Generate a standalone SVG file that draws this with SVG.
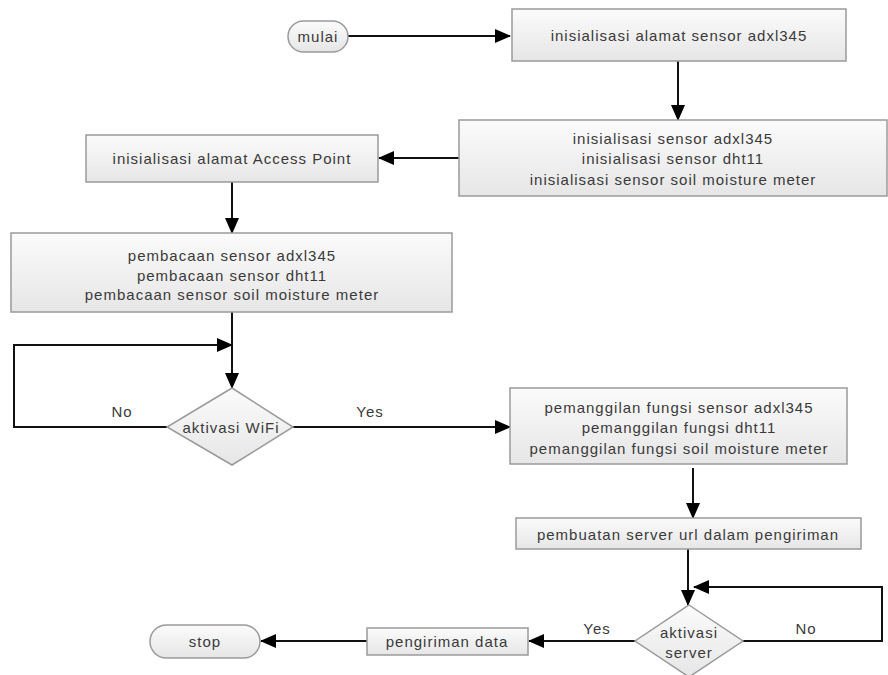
<svg xmlns="http://www.w3.org/2000/svg" width="888" height="675" viewBox="0 0 888 675">
<defs>
<linearGradient id="g" x1="0" y1="0" x2="0" y2="1">
<stop offset="0" stop-color="#fbfbfb"/>
<stop offset="1" stop-color="#e6e6e6"/>
</linearGradient>
<marker id="arr" markerUnits="userSpaceOnUse" markerWidth="16" markerHeight="14" viewBox="0 0 16 14" refX="15" refY="7" orient="auto">
<path d="M0,0 L16,7 L0,14 z" fill="#000"/>
</marker>
<style>
.box{fill:url(#g);stroke:#9a9a9a;stroke-width:1.5}
.t{font-family:"Liberation Sans",Arial,sans-serif;font-size:15px;letter-spacing:1px;fill:#3a3a3a;text-anchor:middle;dominant-baseline:central}
.c{fill:none;stroke:#111;stroke-width:2}
</style>
</defs>
<rect width="888" height="675" fill="#fff"/>
<g id="connectors">
<path class="c" d="M348,36 H510" marker-end="url(#arr)"/>
<path class="c" d="M678,61 V120" marker-end="url(#arr)"/>
<path class="c" d="M459,158 H379" marker-end="url(#arr)"/>
<path class="c" d="M232,182 V233" marker-end="url(#arr)"/>
<path class="c" d="M232,312 V388" marker-end="url(#arr)"/>
<path class="c" d="M167,427 H14 V345 H232" marker-end="url(#arr)"/>
<path class="c" d="M293,427 H510" marker-end="url(#arr)"/>
<path class="c" d="M693,468 V518" marker-end="url(#arr)"/>
<path class="c" d="M688,549 V605" marker-end="url(#arr)"/>
<path class="c" d="M743,641 H882 V587 H694" marker-end="url(#arr)"/>
<path class="c" d="M635,641 H529" marker-end="url(#arr)"/>
<path class="c" d="M367,641 H261" marker-end="url(#arr)"/>
<text class="t" x="122" y="411">No</text>
<text class="t" x="370" y="411">Yes</text>
<text class="t" x="806" y="628">No</text>
<text class="t" x="597" y="628">Yes</text>
</g>
<g id="mulai">
<rect class="box" x="288" y="21" width="60" height="31" rx="15.5"/>
<text class="t" x="318" y="36.5">mulai</text>
</g>
<g id="init-alamat-adxl">
<rect class="box" x="512" y="9" width="334" height="52"/>
<text class="t" x="679" y="35">inisialisasi alamat sensor adxl345</text>
</g>
<g id="init-sensor">
<rect class="box" x="459" y="120" width="428" height="76"/>
<text class="t" x="673" y="138">inisialisasi sensor adxl345</text>
<text class="t" x="673" y="158">inisialisasi sensor dht11</text>
<text class="t" x="673" y="179">inisialisasi sensor soil moisture meter</text>
</g>
<g id="init-ap">
<rect class="box" x="86" y="135" width="292" height="47"/>
<text class="t" x="232" y="158">inisialisasi alamat Access Point</text>
</g>
<g id="pembacaan">
<rect class="box" x="11" y="233" width="441" height="79"/>
<text class="t" x="232" y="255">pembacaan sensor adxl345</text>
<text class="t" x="232" y="275">pembacaan sensor dht11</text>
<text class="t" x="232" y="294">pembacaan sensor soil moisture meter</text>
</g>
<g id="aktivasi-wifi">
<polygon class="box" points="232,388 293,427 232,465 167,427"/>
<text class="t" x="231" y="427">aktivasi WiFi</text>
</g>
<g id="pemanggilan">
<rect class="box" x="510" y="388" width="337" height="76"/>
<text class="t" x="679" y="407">pemanggilan fungsi sensor adxl345</text>
<text class="t" x="679" y="427">pemanggilan fungsi dht11</text>
<text class="t" x="679" y="448">pemanggilan fungsi soil moisture meter</text>
</g>
<g id="pembuatan-url">
<rect class="box" x="516" y="518" width="345" height="31"/>
<text class="t" x="688" y="534">pembuatan server url dalam pengiriman</text>
</g>
<g id="aktivasi-server">
<polygon class="box" points="689,605 743,641 689,677 635,641"/>
<text class="t" x="689" y="632">aktivasi</text>
<text class="t" x="689" y="652">server</text>
</g>
<g id="pengiriman">
<rect class="box" x="367" y="628" width="161" height="27"/>
<text class="t" x="447" y="641.5">pengiriman data</text>
</g>
<g id="stop">
<rect class="box" x="150" y="625" width="110" height="33" rx="16.5"/>
<text class="t" x="205" y="641.5">stop</text>
</g>
</svg>
